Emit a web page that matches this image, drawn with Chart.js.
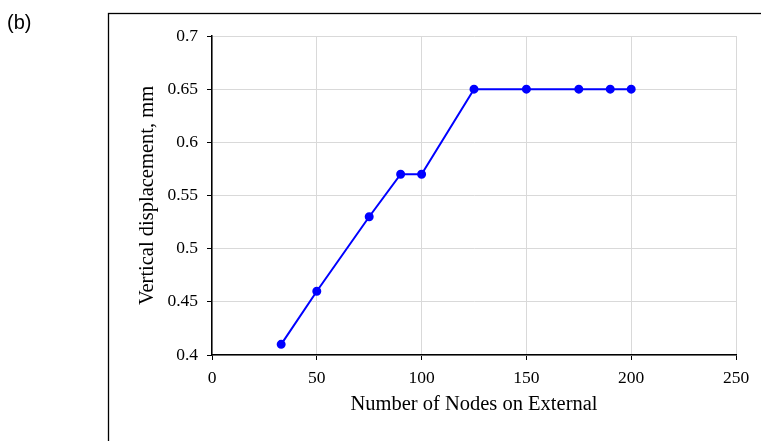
<!DOCTYPE html>
<html>
<head>
<meta charset="utf-8">
<script src="https://cdn.jsdelivr.net/npm/chart.js@4/dist/chart.umd.min.js"></script>
<style>
  html, body { margin: 0; padding: 0; background: #fff; }
  #wrap { width: 761px; height: 441px; position: relative; }
</style>
</head>
<body>
<div id="wrap"><canvas id="chart"></canvas></div>
<script>
// data
const nodes = [33, 50, 75, 90, 100, 125, 150, 175, 190, 200];
const displacement = [0.41, 0.46, 0.53, 0.57, 0.57, 0.65, 0.65, 0.65, 0.65, 0.65];
const xTicks = [0, 50, 100, 150, 200, 250];
const yTicks = [0.4, 0.45, 0.5, 0.55, 0.6, 0.65, 0.7];

const serif = '"Liberation Serif", "Times New Roman", serif';

// outer frame and panel letter
const framePlugin = {
    id: 'frame',
    beforeDraw(chart) {
        const ctx = chart.ctx;
        ctx.save();
        ctx.fillStyle = '#fff';
        ctx.fillRect(0, 0, chart.width, chart.height);
        ctx.strokeStyle = '#000';
        ctx.lineWidth = 1.3;
        ctx.strokeRect(108.5, 13.5, 800, 600);
        ctx.fillStyle = '#000';
        ctx.font = '20px "Liberation Sans", Arial, sans-serif';
        ctx.textBaseline = 'middle';
        ctx.fillText('(b)', 7, 23);
        ctx.restore();
    }
};

const ctx = document.getElementById('chart').getContext('2d');
const chart = new Chart(ctx, {
    type: 'scatter',
    data: {
        datasets: [{
            data: nodes.map((n, i) => ({ x: n, y: displacement[i] })),
            showLine: true,
            borderColor: '#0000ff',
            backgroundColor: '#0000ff',
            borderWidth: 2,
            pointRadius: 3.5,
            pointHoverRadius: 3.5
        }]
    },
    options: {
        responsive: true,
        maintainAspectRatio: false,
        animation: false,
        layout: { padding: { left: 130, top: 36, right: 25, bottom: 20 } },
        plugins: { legend: { display: false }, tooltip: { enabled: false } },
        scales: {
            x: {
                type: 'linear',
                min: 0, max: 250,
                afterBuildTicks: s => { s.ticks = xTicks.map(v => ({ value: v })); },
                afterFit: s => { s.height = 66; },
                grid: { color: '#d9d9d9', tickColor: '#000', tickLength: 5 },
                border: { color: '#000', width: 1.5 },
                ticks: { color: '#000', font: { family: serif, size: 17.5 }, padding: 8, maxRotation: 0 },
                title: { display: true, text: 'Number of Nodes on External', color: '#000',
                         font: { family: serif, size: 20.5 }, padding: { bottom: 4 } }
            },
            y: {
                type: 'linear',
                min: 0.4, max: 0.7,
                afterBuildTicks: s => { s.ticks = yTicks.map(v => ({ value: v })); },
                afterFit: s => { s.width = 82; },
                grid: { color: '#d9d9d9', tickColor: '#000', tickLength: 5 },
                border: { color: '#000', width: 1.5 },
                ticks: { color: '#000', font: { family: serif, size: 17.5 }, padding: 9,
                         callback: v => String(+v.toFixed(2)) },
                title: { display: true, text: 'Vertical displacement, mm', color: '#000',
                         font: { family: serif, size: 20.5 }, padding: { top: 5 } }
            }
        }
    },
    plugins: [framePlugin]
});
</script>
</body>
</html>
